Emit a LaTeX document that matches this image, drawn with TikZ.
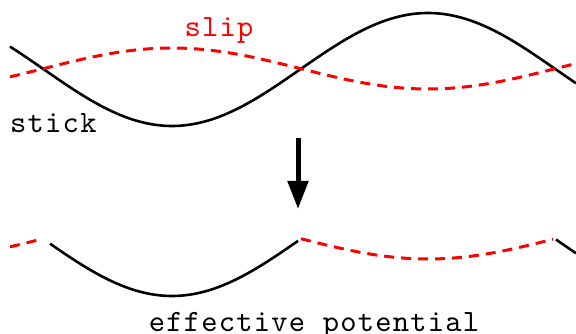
\documentclass[tikz,border=0pt]{standalone}
\usepackage{fontspec}
\newfontfamily\lblfont{lmmono10-regular.otf}[LetterSpace=4]
\usetikzlibrary{arrows.meta}
\definecolor{SlipRed}{RGB}{255,0,0}
\tikzset{
  stickline/.style={black, line width=2.6pt},
  slipline/.style={SlipRed, line width=3pt, dash pattern=on 10pt off 7pt},
  lbl/.style={font=\lblfont\fontsize{31}{33}\selectfont, inner sep=0pt, anchor=base},
  bigarrow/.style={-{Triangle[length=28pt,width=20pt]}, line width=5pt},
}
% stick and slip potentials (picture units, y down)
\def\stickU#1{69.5+56.5*cos(((#1)-172)/256*180)}
\def\slipU#1{68.5-20.5*cos(((#1)-172)/256*180)}

\begin{document}
\begin{tikzpicture}[x=1pt, y=-1pt]
  \useasboundingbox (0,0) rectangle (576,334);
  % top: the two potentials
  \draw[stickline] plot[domain=10:576, samples=120, smooth] (\x,{\stickU{\x}});
  \draw[slipline] plot[domain=10:576, samples=120, smooth] (\x,{\slipU{\x}});
  \node[lbl, text=SlipRed] (slip) at (219,37) {slip};
  \node[lbl, anchor=base west] (stick) at (10,133) {stick};
  % arrow
  \coordinate (arrowtop) at (298,138);
  \coordinate (arrowtip) at (298,209);
  \draw[bigarrow] (arrowtop) -- (arrowtip);
  % bottom: effective potential (lower branch)
  \draw[slipline] plot[domain=10:41, samples=10, smooth] (\x,{\slipU{\x}+170});
  \draw[stickline] plot[domain=50:298, samples=60, smooth] (\x,{\stickU{\x}+170});
  \draw[slipline] plot[domain=301:553, samples=60, smooth] (\x,{\slipU{\x}+170});
  \draw[stickline] plot[domain=556:576, samples=10, smooth] (\x,{\stickU{\x}+170});
  \node[lbl] (effpot) at (314,331) {effective potential};
\end{tikzpicture}
\end{document}
